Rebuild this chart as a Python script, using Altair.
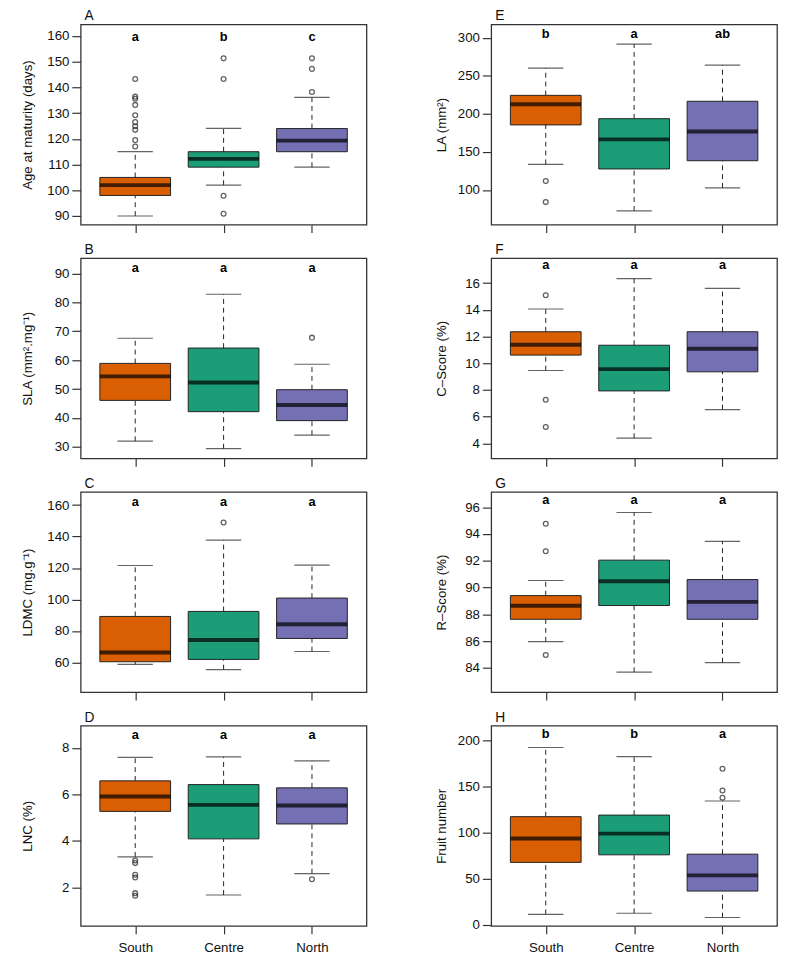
import altair as alt
import pandas as pd

GROUPS = ["South", "Centre", "North"]
COLORS = ["#D95F02", "#1B9E77", "#7570B3"]
FONT = "Liberation Sans"

# ---- Panel A: Age at maturity (days)
A_LOWER = [90, 102, 109]
A_Q1 = [98, 109, 115]
A_MED = [102, 112.2, 119.3]
A_Q3 = [105, 115, 124]
A_UPPER = [115, 124.1, 136.1]
A_OUT = [[143.3, 136.4, 135.6, 133.2, 129.2, 126.5, 124.9, 123.5, 119.5, 117.0],
         [151.3, 143.3, 97.9, 90.9],
         [151.3, 147.2, 138.2]]
A_LETTERS = ["a", "b", "c"]
A_LETTER_Y = 159.4
A_DOMAIN = [86.6, 164.5]
A_TICKS = [90, 100, 110, 120, 130, 140, 150, 160]

# ---- Panel B: SLA
B_LOWER = [32.0, 29.4, 34.1]
B_Q1 = [46.1, 42.2, 39.1]
B_MED = [54.4, 52.3, 44.5]
B_Q3 = [58.9, 64.2, 49.8]
B_UPPER = [67.6, 82.8, 58.6]
B_OUT = [[], [], [67.8]]
B_LETTERS = ["a", "a", "a"]
B_LETTER_Y = 91.9
B_DOMAIN = [26.0, 95.3]
B_TICKS = [30, 40, 50, 60, 70, 80, 90]

# ---- Panel C: LDMC
C_LOWER = [58.7, 55.4, 66.9]
C_Q1 = [60.4, 61.9, 75.2]
C_MED = [66.3, 74.2, 84.2]
C_Q3 = [89.2, 92.4, 100.9]
C_UPPER = [121.6, 137.7, 121.8]
C_OUT = [[], [148.9], []]
C_LETTERS = ["a", "a", "a"]
C_LETTER_Y = 162.1
C_DOMAIN = [41.0, 168.4]
C_TICKS = [60, 80, 100, 120, 140, 160]

# ---- Panel D: LNC
D_LOWER = [3.32, 1.68, 2.60]
D_Q1 = [5.27, 4.09, 4.73]
D_MED = [5.91, 5.55, 5.52]
D_Q3 = [6.58, 6.42, 6.28]
D_UPPER = [7.59, 7.61, 7.44]
D_OUT = [[3.16, 3.05, 2.55, 2.43, 1.76, 1.65], [], [2.36]]
D_LETTERS = ["a", "a", "a"]
D_LETTER_Y = 8.55
D_DOMAIN = [0.35, 8.95]
D_TICKS = [2, 4, 6, 8]

# ---- Panel E: LA
E_LOWER = [133.7, 72.4, 102.6]
E_Q1 = [185.5, 127.6, 138.4]
E_MED = [212.7, 166.5, 176.9]
E_Q3 = [224.4, 193.7, 216.6]
E_UPPER = [260.3, 291.8, 264.1]
E_OUT = [[111.7, 84.0], [], []]
E_LETTERS = ["b", "a", "ab"]
E_LETTER_Y = 305.6
E_DOMAIN = [54.2, 317.7]
E_TICKS = [100, 150, 200, 250, 300]

# ---- Panel F: C-Score
F_LOWER = [9.46, 4.39, 6.53]
F_Q1 = [10.61, 7.93, 9.36]
F_MED = [11.38, 9.56, 11.08]
F_Q3 = [12.36, 11.35, 12.36]
F_UPPER = [14.06, 16.34, 15.61]
F_OUT = [[15.09, 7.27, 5.23], [], []]
F_LETTERS = ["a", "a", "a"]
F_LETTER_Y = 17.35
F_DOMAIN = [2.87, 17.87]
F_TICKS = [4, 6, 8, 10, 12, 14, 16]

# ---- Panel G: R-Score
G_LOWER = [85.96, 83.68, 84.39]
G_Q1 = [87.63, 88.66, 87.63]
G_MED = [88.64, 90.48, 88.93]
G_Q3 = [89.40, 92.05, 90.60]
G_UPPER = [90.53, 95.61, 93.45]
G_OUT = [[94.77, 92.71, 84.96], [], []]
G_LETTERS = ["a", "a", "a"]
G_LETTER_Y = 96.54
G_DOMAIN = [82.18, 97.15]
G_TICKS = [84, 86, 88, 90, 92, 94, 96]

# ---- Panel H: Fruit number
H_LOWER = [11.3, 12.4, 7.8]
H_Q1 = [67.6, 75.8, 36.5]
H_MED = [93.5, 98.8, 53.5]
H_Q3 = [117.2, 118.9, 76.5]
H_UPPER = [192.2, 182.3, 134.2]
H_OUT = [[], [], [169.2, 145.5, 137.7]]
H_LETTERS = ["b", "b", "a"]
H_LETTER_Y = 206.4
H_DOMAIN = [-1.4, 215.9]
H_TICKS = [0, 50, 100, 150, 200]

INK = "#222222"


def panel(tag, ytitle, lower, q1, med, q3, upper, outs, letters, letter_y,
          domain, ticks, bottom, title_x):
    df = pd.DataFrame({
        "group": GROUPS, "lower": lower, "q1": q1, "med": med,
        "q3": q3, "upper": upper, "letter": letters,
        "ly": [letter_y] * 3,
    })
    out_rows = [{"group": g, "v": v} for g, vals in zip(GROUPS, outs) for v in vals]
    odf = pd.DataFrame(out_rows, columns=["group", "v"])

    xscale = alt.Scale(type="point", domain=GROUPS, padding=0.617)
    yscale = alt.Scale(domain=domain, nice=False, zero=False)
    xaxis = alt.Axis(title=None, labels=bottom, tickSize=8, domain=False,
                     labelPadding=7, labelAngle=0, grid=False)
    yaxis = alt.Axis(title=ytitle, values=ticks, tickSize=9, domain=False,
                     labelPadding=3, grid=False, titleX=title_x,
                     titleBaseline="middle")

    X = alt.X("group:N", scale=xscale, axis=xaxis, sort=GROUPS)

    def Y(field):
        return alt.Y(f"{field}:Q", scale=yscale, axis=yaxis)

    base = alt.Chart(df)
    wl = base.mark_rule(strokeDash=[5, 4], color=INK, strokeWidth=1).encode(
        x=X, y=Y("lower"), y2="q1")
    wu = base.mark_rule(strokeDash=[5, 4], color=INK, strokeWidth=1).encode(
        x=X, y=Y("q3"), y2="upper")
    cl = base.mark_tick(size=36, thickness=1.2, color=INK).encode(x=X, y=Y("lower"))
    cu = base.mark_tick(size=36, thickness=1.2, color=INK).encode(x=X, y=Y("upper"))
    box = base.mark_bar(size=72, stroke=INK, strokeWidth=1).encode(
        x=X, y=Y("q1"), y2="q3",
        color=alt.Color("group:N", scale=alt.Scale(domain=GROUPS, range=COLORS),
                        legend=None))
    medl = base.mark_tick(size=72, thickness=4, color="#000000").encode(x=X, y=Y("med"))
    txt = base.mark_text(fontWeight="bold", fontSize=13, font=FONT,
                         color="#000000").encode(x=X, y=Y("ly"), text="letter:N")
    pts = alt.Chart(odf).mark_point(shape="circle", filled=False, size=24,
                                    stroke=INK, strokeWidth=1.3).encode(
        x=X, y=Y("v"))

    return alt.layer(wl, wu, box, medl, cl, cu, pts, txt).properties(
        width=291, height=204,
        title=alt.TitleParams(text=tag, anchor="start", frame="group",
                              fontSize=14, fontWeight="normal", font=FONT,
                              offset=1, dx=4, color="#111111"),
    )


left = alt.vconcat(
    panel("A", "Age at maturity (days)", A_LOWER, A_Q1, A_MED, A_Q3, A_UPPER,
          A_OUT, A_LETTERS, A_LETTER_Y, A_DOMAIN, A_TICKS, False, -54),
    panel("B", "SLA (mm².mg⁻¹)", B_LOWER, B_Q1, B_MED, B_Q3, B_UPPER,
          B_OUT, B_LETTERS, B_LETTER_Y, B_DOMAIN, B_TICKS, False, -54),
    panel("C", "LDMC (mg.g⁻¹)", C_LOWER, C_Q1, C_MED, C_Q3, C_UPPER,
          C_OUT, C_LETTERS, C_LETTER_Y, C_DOMAIN, C_TICKS, False, -54),
    panel("D", "LNC (%)", D_LOWER, D_Q1, D_MED, D_Q3, D_UPPER,
          D_OUT, D_LETTERS, D_LETTER_Y, D_DOMAIN, D_TICKS, True, -54),
    spacing=8,
)
right = alt.vconcat(
    panel("E", "LA (mm²)", E_LOWER, E_Q1, E_MED, E_Q3, E_UPPER,
          E_OUT, E_LETTERS, E_LETTER_Y, E_DOMAIN, E_TICKS, False, -51),
    panel("F", "C–Score (%)", F_LOWER, F_Q1, F_MED, F_Q3, F_UPPER,
          F_OUT, F_LETTERS, F_LETTER_Y, F_DOMAIN, F_TICKS, False, -51),
    panel("G", "R–Score (%)", G_LOWER, G_Q1, G_MED, G_Q3, G_UPPER,
          G_OUT, G_LETTERS, G_LETTER_Y, G_DOMAIN, G_TICKS, False, -51),
    panel("H", "Fruit number", H_LOWER, H_Q1, H_MED, H_Q3, H_UPPER,
          H_OUT, H_LETTERS, H_LETTER_Y, H_DOMAIN, H_TICKS, True, -51),
    spacing=8,
)

chart = alt.hconcat(left, right, spacing=67).properties(
    padding={"left": 12, "top": -8, "right": 0, "bottom": 0},
    background="white",
).configure_view(
    stroke="#333333", strokeWidth=1.3,
).configure_axis(
    labelFont=FONT, labelFontSize=13.5, labelColor="#111111",
    titleFont=FONT, titleFontSize=13.5, titleFontWeight="normal",
    titleColor="#111111", tickColor="#333333", tickWidth=1.2,
)

chart.save("out.html", embed_options={"renderer": "svg", "actions": False})
